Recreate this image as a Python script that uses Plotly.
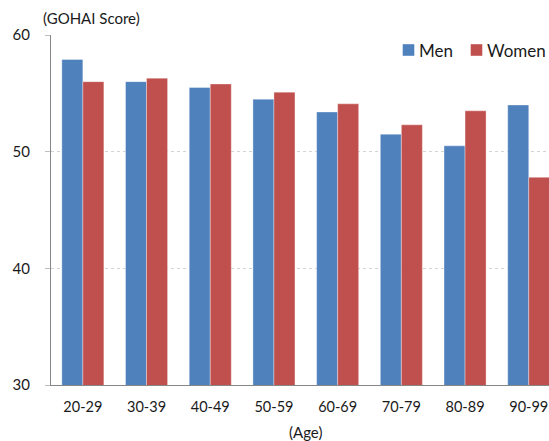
import plotly.graph_objects as go

age_groups = ["20-29", "30-39", "40-49", "50-59", "60-69", "70-79", "80-89", "90-99"]
men = [57.9, 56.0, 55.5, 54.5, 53.4, 51.5, 50.5, 54.0]
women = [56.0, 56.3, 55.8, 55.1, 54.1, 52.3, 53.5, 47.8]
y_ticks = [30, 40, 50, 60]
series_names = ["Men", "Women"]

FONT = "Lato, 'Liberation Sans', sans-serif"
BLUE = "#4F81BD"
RED = "#C0504D"
TXT = "#1a1a1a"

# plot area spans x 51..549, y 35..385 of the 549x441 page
PX0, PW = 51.0, 498.0
PY0, PH = 385.0, 350.0
def px(x):
    return (x - PX0) / PW
def py(y):
    return (PY0 - y) / PH

fig = go.Figure()
fig.add_trace(go.Bar(name=series_names[0], x=age_groups, y=men,
                     marker=dict(color=BLUE, line=dict(color="rgba(255,255,255,0.35)", width=1))))
fig.add_trace(go.Bar(name=series_names[1], x=age_groups, y=women,
                     marker=dict(color=RED, line=dict(color="rgba(255,255,255,0.35)", width=1))))

# hand-placed legend (tight symbol/text spacing like the reference)
legend_items = [(series_names[0], BLUE, 402.7, 418.0), (series_names[1], RED, 470.7, 486.3)]
shapes = []
annotations = []
for name, col, sx, tx in legend_items:
    shapes.append(dict(type="rect", xref="paper", yref="paper",
                       x0=px(sx), x1=px(sx + 11.6), y0=py(55.8), y1=py(44.2),
                       fillcolor=col, line=dict(width=0)))
    annotations.append(dict(text=name, xref="paper", yref="paper", x=px(tx - 1), y=py(50.5),
                            xanchor="left", yanchor="middle", showarrow=False,
                            font=dict(size=17, color=TXT)))

annotations.append(dict(text="(GOHAI Score)", xref="paper", yref="paper", x=px(40.5), y=py(18.4),
                        xanchor="left", yanchor="middle", showarrow=False,
                        font=dict(size=15, color=TXT)))
annotations.append(dict(text="(Age)", xref="paper", yref="paper", x=px(305.5), y=py(431.5),
                        xanchor="center", yanchor="middle", showarrow=False,
                        font=dict(size=15, color=TXT)))

fig.update_layout(
    width=549, height=441,
    margin=dict(l=51, r=0, t=35, b=56, autoexpand=False),
    paper_bgcolor="white", plot_bgcolor="white",
    barmode="group", bargap=0.34, bargroupgap=0,
    font=dict(family=FONT, size=15, color=TXT),
    showlegend=False,
    xaxis=dict(type="category", categoryorder="array", categoryarray=age_groups,
               range=[-0.5, -0.5 + PW / 63.7], showgrid=False, automargin=False,
               showline=True, linecolor="#868686", linewidth=1, ticks="", zeroline=False,
               tickfont=dict(size=14.5, color=TXT), ticklabelstandoff=9),
    yaxis=dict(range=[30, 60], tickvals=y_ticks, showgrid=True, automargin=False,
               gridcolor="#D4D4D4", griddash="dot", gridwidth=1,
               showline=True, linecolor="#868686", linewidth=1,
               ticks="outside", ticklen=5, tickcolor="#BFBFBF",
               tickfont=dict(size=15, color=TXT), ticklabelstandoff=12, zeroline=False),
    shapes=shapes,
    annotations=annotations,
)

fig.write_html("out.html", config={"displayModeBar": False},
               post_script="document.body.style.margin='0';document.body.style.overflow='hidden';")
